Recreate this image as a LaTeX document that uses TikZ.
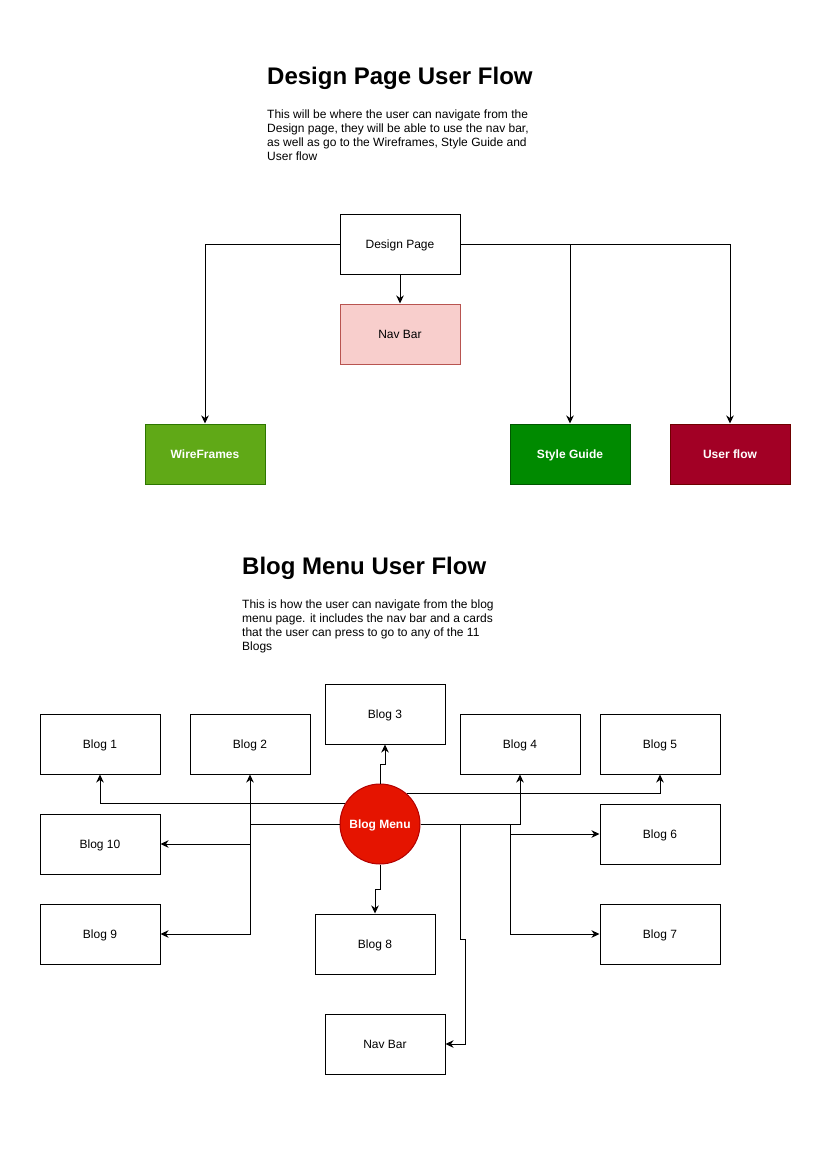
\documentclass[tikz,border=0pt]{standalone}
\usepackage{fontspec}
\setmainfont{Liberation Sans}
\usetikzlibrary{arrows.meta,calc}
\definecolor{navfill}{HTML}{F8CECC}
\definecolor{navline}{HTML}{B85450}
\definecolor{wirefill}{HTML}{60A917}
\definecolor{wireline}{HTML}{2D7600}
\definecolor{stylefill}{HTML}{008A00}
\definecolor{styleline}{HTML}{005700}
\definecolor{flowfill}{HTML}{A20025}
\definecolor{flowline}{HTML}{6F0000}
\definecolor{menufill}{HTML}{E51400}
\definecolor{menuline}{HTML}{B20000}
\begin{document}
\begin{tikzpicture}[x=1pt,y=-1pt,>={Stealth[length=8pt,width=7.5pt,inset=2.5pt]},
  box/.style={draw,line width=1pt,minimum width=120pt,minimum height=60pt,inner sep=0pt,text height=10pt,text depth=1pt,font=\fontsize{12}{14}\selectfont},
  colbox/.style={box,text=white,font=\fontsize{12}{14}\selectfont\bfseries},
  title/.style={anchor=base west,inner sep=0pt,font=\fontsize{24}{28}\selectfont\bfseries},
  para/.style={anchor=north west,inner sep=0pt,align=left,font=\fontsize{12}{14}\selectfont},
  link/.style={->,line width=1pt}]
\useasboundingbox (0,0) rectangle (821,1149);

% design page
\begin{scope}
\node[title] (title1) at (267,84) {Design Page User Flow};
\node[para] (text1) at (267,110) {This will be where the user can navigate from the\\
Design page, they will be able to use the nav bar,\\
as well as go to the Wireframes, Style Guide and\\
User flow};
\node[box] (design) at (400,244) {Design Page};
\node[box,fill=navfill,draw=navline] (nav1) at (400,334) {Nav Bar};
\node[colbox,fill=wirefill,draw=wireline] (wire) at (205,454) {WireFrames};
\node[colbox,fill=stylefill,draw=styleline] (style) at (570,454) {Style Guide};
\node[colbox,fill=flowfill,draw=flowline] (flow) at (730,454) {User flow};

\draw[link] (design) -- (nav1);
\draw[link] (design.west) -| (wire);
\draw[link] (design.east) -| (style);
\draw[link] (design.east) -| (flow);
\end{scope}

% blog menu
\begin{scope}
\node[title] (title2) at (242,574) {Blog Menu User Flow};
\node[para] (text2) at (242,600) {This is how the user can navigate from the blog\\
menu page. it includes the nav bar and a cards\\
that the user can press to go to any of the 11\\
Blogs};
\foreach \n/\x/\y in {1/100/744,2/250/744,3/385/714,4/520/744,5/660/744,6/660/834,7/660/934,8/375/944,9/100/934,10/100/844}
{
    \node[box] (blog\n) at (\x,\y) {Blog \n};
}
\node[box] (nav2) at (385,1044) {Nav Bar};
\node[circle,draw=menuline,fill=menufill,line width=1pt,minimum size=80pt,inner sep=0pt,text=white,text height=10pt,text depth=1pt,font=\fontsize{12}{14}\selectfont\bfseries] (menu) at (380,824) {Blog Menu};

\coordinate (leftsplit) at (250,824);
\coordinate (rightsplit) at (510,824);
\coordinate (navsplit) at (460,824);

\draw[link] (menu.150) -| (blog1);
\draw[link] (menu.west) -| (blog2);
\draw[link] (menu.west) -- (leftsplit) |- (blog10);
\draw[link] (menu.west) -- (leftsplit) |- (blog9);
\draw[link] (menu.north) |- ($(menu.north)!.5!(blog3.south)$) -| (blog3.south);
\draw[link] (menu.south) |- ($(menu.south)!.5!(blog8.north)$) -| (blog8.north);
\draw[link] (menu.48.6) -| (blog5);
\draw[link] (menu.east) -| (blog4);
\draw[link] (menu.east) -- (rightsplit) |- (blog6);
\draw[link] (menu.east) -- (rightsplit) |- (blog7);
\draw[link] (menu.east) -- (navsplit) |- ++(5,115) |- (nav2);
\end{scope}
\end{tikzpicture}
\end{document}
